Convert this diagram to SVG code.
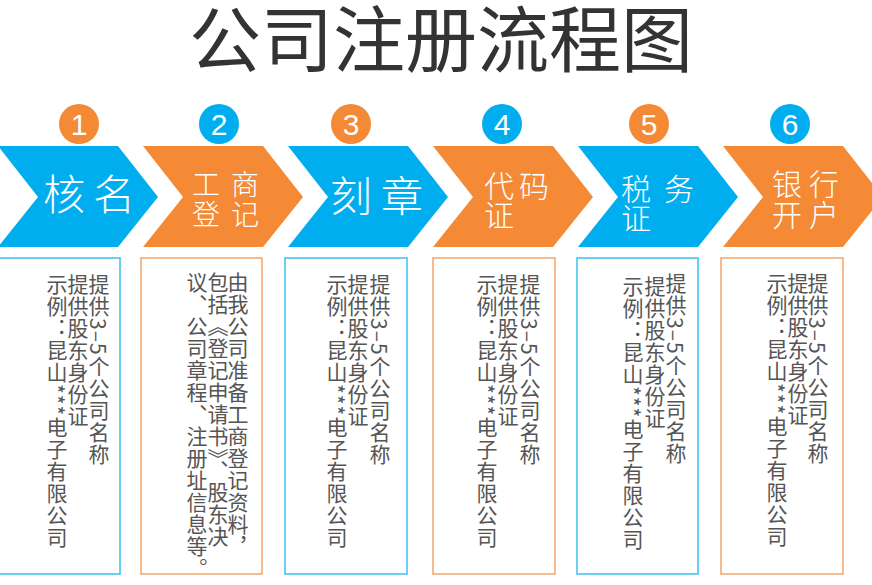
<svg xmlns="http://www.w3.org/2000/svg" width="872" height="585" viewBox="0 0 872 585">
<style>
.title{font-family:"Noto Sans CJK SC","Noto Sans",sans-serif;font-size:72px;fill:#333;text-anchor:middle}
.blue{fill:#00AEEF}
.orange{fill:#F48A35}
.num{font-family:"Liberation Sans",Arial,sans-serif;font-size:30px;fill:#fff;text-anchor:middle}
.lbl{font-family:"Noto Sans CJK SC",sans-serif;fill:#fff;font-weight:300}
.boxb{fill:#fff;stroke:#3BBEF0;stroke-width:1.5}
.boxo{fill:#fff;stroke:#F5A468;stroke-width:1.5}
.vt{font-family:"Noto Sans CJK SC",sans-serif;font-size:21px;fill:#555;writing-mode:vertical-rl;letter-spacing:1px}
</style>
<defs>
<path id="chev" d="M0,146 H120 L160,197 L120,247 H0 L40,197 Z"/>
</defs>
<rect width="872" height="585" fill="#fff"/>
<text class="title" x="441" y="66">公司注册流程图</text>

<g id="step1">
<circle class="orange" cx="79" cy="124" r="20"/>
<text class="num" x="79" y="135">1</text>
<use href="#chev" class="blue" x="-2"/>
<text class="lbl" x="43" y="210" font-size="42" letter-spacing="8">核名</text>
<rect class="boxb" x="-1" y="258" width="121" height="316"/>
<text class="vt" x="99" y="274">提供3–5个公司名称</text>
<text class="vt" x="78" y="274">提供股东身份证</text>
<text class="vt" x="57" y="274">示例：昆山***电子有限公司</text>
</g>

<g id="step2">
<circle class="blue" cx="219" cy="124" r="20"/>
<text class="num" x="219" y="135">2</text>
<use href="#chev" class="orange" x="143"/>
<text class="lbl" font-size="28" letter-spacing="11"><tspan x="192" y="195">工商</tspan><tspan x="192" y="225">登记</tspan></text>
<rect class="boxo" x="141" y="258" width="121" height="316"/>
<text class="vt" x="238" y="272">由我公司准备工商登记资料，</text>
<text class="vt" x="218" y="272">包括《登记申请书》、股东决</text>
<text class="vt" x="197" y="272">议、公司章程、注册址信息等。</text>
</g>

<g id="step3">
<circle class="orange" cx="351" cy="124" r="20"/>
<text class="num" x="351" y="135">3</text>
<use href="#chev" class="blue" x="288"/>
<text class="lbl" x="330" y="212" font-size="42" letter-spacing="9">刻章</text>
<rect class="boxb" x="285" y="258" width="122" height="316"/>
<text class="vt" x="380" y="274">提供3–5个公司名称</text>
<text class="vt" x="358" y="274">提供股东身份证</text>
<text class="vt" x="337" y="274">示例：昆山***电子有限公司</text>
</g>

<g id="step4">
<circle class="blue" cx="502" cy="124" r="20"/>
<text class="num" x="502" y="135">4</text>
<use href="#chev" class="orange" x="433"/>
<text class="lbl" font-size="30" letter-spacing="5"><tspan x="484" y="197">代码</tspan><tspan x="484" y="226">证</tspan></text>
<rect class="boxo" x="433" y="258" width="122" height="316"/>
<text class="vt" x="530" y="274">提供3–5个公司名称</text>
<text class="vt" x="508" y="274">提供股东身份证</text>
<text class="vt" x="487" y="274">示例：昆山***电子有限公司</text>
</g>

<g id="step5">
<circle class="orange" cx="649" cy="124" r="20"/>
<text class="num" x="649" y="135">5</text>
<use href="#chev" class="blue" x="578"/>
<text class="lbl" font-size="30" letter-spacing="13"><tspan x="621" y="200">税务</tspan><tspan x="621" y="229">证</tspan></text>
<rect class="boxb" x="577" y="258" width="121" height="316"/>
<text class="vt" x="676" y="273">提供3–5个公司名称</text>
<text class="vt" x="655" y="276">提供股东身份证</text>
<text class="vt" x="633" y="276">示例：昆山***电子有限公司</text>
</g>

<g id="step6">
<circle class="blue" cx="790" cy="124" r="20"/>
<text class="num" x="790" y="135">6</text>
<use href="#chev" class="orange" x="723"/>
<text class="lbl" font-size="30" letter-spacing="7"><tspan x="772" y="195">银行</tspan><tspan x="772" y="226">开户</tspan></text>
<rect class="boxo" x="721" y="258" width="122" height="316"/>
<text class="vt" x="818" y="273">提供3–5个公司名称</text>
<text class="vt" x="798" y="273">提供股东身份证</text>
<text class="vt" x="777" y="273">示例：昆山***电子有限公司</text>
</g>

<g id="connectors"></g>
</svg>
